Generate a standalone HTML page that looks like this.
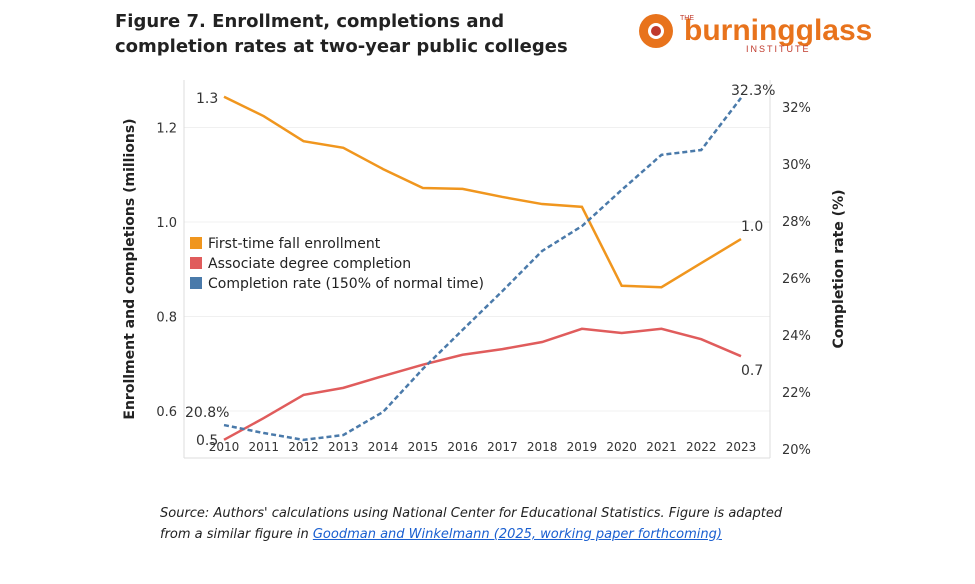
<!DOCTYPE html>
<html><head><meta charset="utf-8"><style>
body{margin:0;background:#fff;width:975px;height:584px;overflow:hidden;font-family:"DejaVu Sans","Liberation Sans",sans-serif}
.title{position:absolute;left:115px;top:9px;font-weight:bold;font-size:18px;line-height:25px;color:#222}
.src{position:absolute;left:160px;top:503px;font-style:italic;font-size:13px;line-height:21px;color:#222}
.src a{color:#1a5fd0;text-decoration:underline}
</style></head><body>
<div class="title">Figure 7. Enrollment, completions and<br>completion rates at two-year public colleges</div>
<div style="position:absolute;left:636px;top:10px;width:240px;height:44px">
<svg width="240" height="44"><circle cx="20" cy="21" r="17" fill="#e8731c"/><circle cx="20" cy="21" r="8" fill="#fff"/><circle cx="20" cy="21" r="5" fill="#c0392b"/>
<text x="48" y="30" font-family="Liberation Sans,sans-serif" font-weight="bold" font-size="30" fill="#e8731c">burningglass</text>
<text x="44" y="10" font-size="7" fill="#c0392b" font-family="Liberation Sans,sans-serif">THE</text>
<text x="110" y="42" font-size="9" fill="#c0392b" letter-spacing="2" font-family="Liberation Sans,sans-serif">INSTITUTE</text></svg></div>
<svg id="chart" width="975" height="584" style="position:absolute;left:0;top:0;font-family:'DejaVu Sans',sans-serif"></svg>
<div class="src">Source: Authors' calculations using National Center for Educational Statistics. Figure is adapted<br>from a similar figure in <a>Goodman and Winkelmann (2025, working paper forthcoming)</a></div>
<script>
const years=[2010,2011,2012,2013,2014,2015,2016,2017,2018,2019,2020,2021,2022,2023];
const enrollment=[1.265,1.224,1.171,1.157,1.112,1.072,1.070,1.053,1.038,1.032,0.865,0.862,0.913,0.964];
const completions=[0.539,0.585,0.634,0.649,0.674,0.698,0.719,0.731,0.746,0.774,0.765,0.774,0.752,0.716];
const rate=[20.84,20.56,20.32,20.49,21.30,22.81,24.18,25.54,26.95,27.82,29.09,30.32,30.49,32.32];
const leftTicks=[0.6,0.8,1.0,1.2];
const rightTicks=[20,22,24,26,28,30,32];
const NS="http://www.w3.org/2000/svg",svg=document.getElementById('chart');
const x=i=>224+i*(741-224)/13;
const yL=v=>222-(v-1.0)*472.5;
const yR=v=>449-(v-20)*28.5;
function mk(t,a,txt){const e=document.createElementNS(NS,t);for(const k in a)e.setAttribute(k,a[k]);if(txt!==undefined)e.textContent=txt;svg.appendChild(e);return e;}
leftTicks.forEach(t=>{const g=mk('line',{x1:184,x2:770,y1:yL(t),y2:yL(t),stroke:'#f0f0f0'});


const l=mk('text',{x:177,y:yL(t)+5,'text-anchor':'end','font-size':13,fill:'#333'},t.toFixed(1));

});
rightTicks.forEach(t=>{const l=mk('text',{x:782,y:yR(t)+5,'font-size':13,fill:'#333'},t+'%');

});
mk('line',{x1:184,x2:184,y1:80,y2:458,stroke:'#ddd'});
mk('line',{x1:770,x2:770,y1:80,y2:458,stroke:'#ddd'});
mk('line',{x1:184,x2:770,y1:458,y2:458,stroke:'#ddd'});
years.forEach((yv,i)=>{const l=mk('text',{x:x(i),y:451,'text-anchor':'middle','font-size':12,fill:'#333'},yv);

});
function line(arr,yf,col,name,dash){const p=mk('polyline',{points:arr.map((v,i)=>x(i)+','+yf(v)).join(' '),fill:'none',stroke:col,'stroke-width':2.5,'stroke-dasharray':dash||''});

}
line(enrollment,yL,'#f0961e','enrollment-line');
line(completions,yL,'#e05c5c','completion-line');
line(rate,yR,'#4a7aaa','completion-rate-line','5,3');
const lab=(t,xx,yy,anchor)=>{const e=mk('text',{x:xx,y:yy,'font-size':14,fill:'#333','text-anchor':anchor||'start'},t);

};
lab(enrollment[0].toFixed(1),196,103);lab(completions[0].toFixed(1),196,445);lab(rate[0].toFixed(1)+'%',185,417);
lab(enrollment[13].toFixed(1),741,231);lab(completions[13].toFixed(1),741,375);lab(rate[13].toFixed(1)+'%',731,95);
const yt=mk('text',{transform:'translate(134,269) rotate(-90)','text-anchor':'middle','font-size':14,'font-weight':'bold',fill:'#222'},'Enrollment and completions (millions)');


const yt2=mk('text',{transform:'translate(843,269) rotate(-90)','text-anchor':'middle','font-size':14,'font-weight':'bold',fill:'#222'},'Completion rate (%)');


[['First-time fall enrollment','#f0961e'],['Associate degree completion','#e05c5c'],['Completion rate (150% of normal time)','#4a7aaa']].forEach((d,i)=>{
const r=mk('rect',{x:190,y:237+i*20,width:12,height:12,fill:d[1]});


const t=mk('text',{x:208,y:248+i*20,'font-size':14,fill:'#222'},d[0]);

});
</script>
</body></html>
